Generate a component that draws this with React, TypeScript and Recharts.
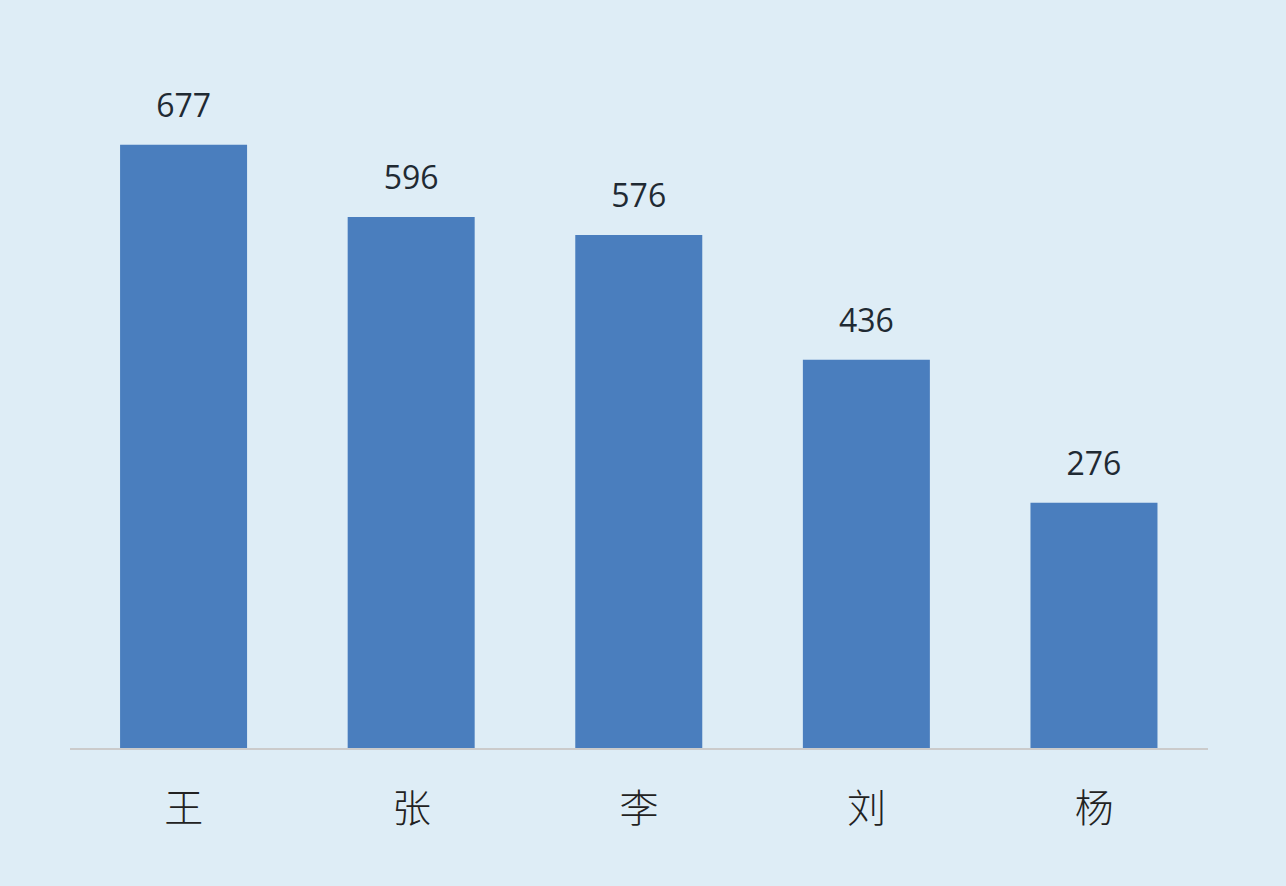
import React from "react";
import { BarChart, Bar, XAxis, YAxis, LabelList } from "recharts";

const categories = ["王", "张", "李", "刘", "杨"];
const values = [677, 596, 576, 436, 276];

const data = categories.map((name, i) => ({ name, value: values[i] }));

const CatTick = (props: any) => {
  const { x, y, payload } = props;
  return (
    <text
      x={x}
      y={y + 48}
      textAnchor="middle"
      dominantBaseline="central"
      fontSize={39}
      fontWeight={300}
      fill="#222"
      fontFamily='"Noto Sans CJK SC", sans-serif'
    >
      {payload.value}
    </text>
  );
};

const ValueLabel = (props: any) => {
  const { x, y, width, value } = props;
  return (
    <text
      x={x + width / 2}
      y={y - 28}
      textAnchor="middle"
      fontSize={32}
      fill="#1f2a33"
      fontFamily='"Open Sans", "Noto Sans", sans-serif'
    >
      {value}
    </text>
  );
};

export default function App() {
  return (
    <div style={{ position: "absolute", left: 0, top: 0, width: 1286, height: 886, background: "#deedf6" }}>
      <BarChart
        width={1286}
        height={886}
        data={data}
        margin={{ top: 35, right: 78, left: 70, bottom: 0 }}
        barCategoryGap="22%"
      >
        <XAxis
          dataKey="name"
          height={137}
          tickLine={false}
          axisLine={{ stroke: "#cbcbcb", strokeWidth: 2 }}
          tick={<CatTick />}
          interval={0}
        />
        <YAxis hide domain={[0, 800]} />
        <Bar dataKey="value" fill="#4a7ebe" isAnimationActive={false}>
          <LabelList dataKey="value" content={<ValueLabel />} />
        </Bar>
      </BarChart>
    </div>
  );
}
